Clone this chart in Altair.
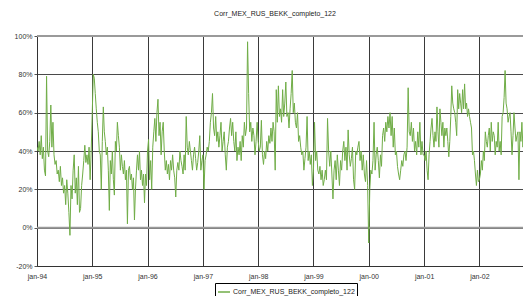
import pandas as pd
import altair as alt

SERIES = "Corr_MEX_RUS_BEKK_completo_122"
TITLE = "Corr_MEX_RUS_BEKK_completo_122"

# weekly-ish readings, in percent, one list per calendar year
v1994 = [42, 40, 45, 38, 48, 36, 42, 30, 27, 79, 40, 37, 45, 64, 42, 55, 38, 33, 35, 28,
         30, 24, 32, 22, 26, 18, 22, 12, 25, 18, 8, -4, 22, 15, 30, 38, 18, 26, 12, 32,
         8, 10, 22, 28, 35, 43, 34, 38, 33, 42, 25, 40]
v1995 = [60, 80, 78, 70, 62, 55, 50, 40, 38, 20, 45, 63, 50, 45, 38, 42, 30, 9, 35, 28,
         40, 25, 17, 45, 40, 55, 48, 42, 30, 38, 32, 28, 35, 25, 30, 2, 30, 32, 25, 28,
         20, 26, 4, 20, 30, 38, 30, 40, 25, 30, 22, 28, 13, 28, 22]
v1996 = [40, 46, 25, 35, 20, 42, 50, 57, 45, 60, 67, 48, 55, 38, 50, 55, 40, 30, 35, 28,
         33, 25, 35, 30, 38, 30, 26, 16, 30, 34, 30, 40, 35, 32, 28, 38, 30, 58, 42, 38,
         45, 40, 35, 30, 38, 42, 36, 30, 34, 40, 48, 30, 35]
v1997 = [38, 20, 35, 38, 42, 40, 45, 55, 60, 70, 52, 48, 58, 45, 50, 42, 48, 55, 40, 45,
         50, 38, 30, 42, 45, 52, 57, 48, 55, 45, 40, 50, 35, 42, 38, 45, 35, 48, 42, 55,
         48, 52, 97, 70, 50, 55, 45, 52, 48, 38, 45, 55]
v1998 = [45, 40, 42, 56, 38, 33, 40, 36, 45, 40, 48, 44, 52, 45, 55, 50, 30, 72, 55, 74,
         58, 62, 55, 72, 58, 65, 76, 58, 60, 52, 62, 70, 82, 60, 65, 55, 52, 60, 45, 48,
         42, 38, 40, 30, 36, 42, 58, 35, 40, 33, 38, 22]
v1999 = [30, 55, 35, 40, 30, 28, 32, 25, 30, 22, 25, 30, 25, 57, 40, 32, 40, 28, 15, 30,
         35, 25, 38, 30, 22, 35, 30, 40, 45, 35, 42, 30, 51, 38, 32, 36, 42, 25, 20, 40,
         38, 42, 45, 35, 40, 30, 38, 28, 24, 35, 22]
v2000 = [-8, 20, 30, 28, 35, 55, 30, 38, 42, 35, 26, 38, 32, 48, 52, 45, 55, 50, 58, 52,
         60, 48, 58, 42, 52, 38, 40, 32, 28, 25, 30, 35, 32, 38, 40, 35, 42, 73, 50, 48,
         55, 45, 52, 40, 45, 38, 50, 42, 55, 38, 45, 38]
v2001 = [38, 35, 40, 30, 25, 38, 45, 52, 57, 48, 42, 50, 45, 63, 50, 42, 62, 55, 48, 55,
         42, 52, 48, 52, 45, 37, 45, 58, 74, 65, 62, 60, 55, 48, 72, 62, 70, 65, 60, 72,
         62, 75, 62, 65, 58, 62, 58, 55, 52, 38, 40, 35, 28, 22, 30, 24]
v2002 = [25, 28, 35, 30, 40, 35, 50, 45, 42, 48, 52, 40, 55, 45, 50, 48, 38, 45, 42, 55,
         40, 45, 38, 58, 60, 68, 82, 65, 62, 55, 58, 60, 50, 38, 48, 60, 52, 45, 48, 50,
         25, 50, 45, 55, 42, 50, 40, 48, 42, 45, 40, 42]

YEARS = [1994, 1995, 1996, 1997, 1998, 1999, 2000, 2001, 2002]
VALUES = [v1994, v1995, v1996, v1997, v1998, v1999, v2000, v2001, v2002]
LAST_DAY = "2002-11-30"

Y_TICKS = [-0.2, 0.0, 0.2, 0.4, 0.6, 0.8, 1.0]
REF_LINES = [0.0, 1.0]

rows = []
for yr, vals in zip(YEARS, VALUES):
    start = pd.Timestamp(f"{yr}-01-01")
    if yr == YEARS[-1]:
        stop = pd.Timestamp(LAST_DAY)
        step = (stop - start) / (len(vals) - 1)
    else:
        stop = pd.Timestamp(f"{yr + 1}-01-01")
        step = (stop - start) / len(vals)
    for i, v in enumerate(vals):
        rows.append({"date": start + step * i, "value": v / 100.0, "series": SERIES})
df = pd.DataFrame(rows)

FONT = "Liberation Sans"
TXT = "#333333"

x_axis = alt.Axis(
    values=[alt.DateTime(year=y, month=1, date=1) for y in YEARS],
    labelExpr="'jan-' + timeFormat(datum.value, '%y')",
    title=None, grid=True, gridColor="#3a3a3a", gridWidth=1,
    ticks=False, tickSize=0, labelPadding=6, labelFontSize=7, labelFont=FONT,
    labelColor=TXT, domainColor="#333333", domainWidth=1, labelFlush=False,
)
y_axis = alt.Axis(
    values=Y_TICKS, labelExpr="round(datum.value * 100) + '%'",
    title=None, grid=True, gridColor="#4a4a4a", gridWidth=1,
    ticks=True, tickSize=3, tickColor="#555555", labelPadding=2,
    labelFontSize=7, labelFont=FONT, labelColor=TXT,
    domainColor="#333333", domainWidth=1,
)

x_scale = alt.Scale(domain=[alt.DateTime(year=1994, month=1, date=1),
                            alt.DateTime(year=2002, month=10, date=16)])
y_scale = alt.Scale(domain=[-0.2, 1.0], nice=False)

refs = alt.Chart(pd.DataFrame({"y": REF_LINES})).mark_rule(
    color="#9a9a9a", strokeWidth=2
).encode(y=alt.Y("y:Q", scale=y_scale, axis=y_axis))

line = alt.Chart(df).mark_line(strokeWidth=1, clip=True).encode(
    x=alt.X("date:T", scale=x_scale, axis=x_axis),
    y=alt.Y("value:Q", scale=y_scale, axis=y_axis),
    color=alt.Color(
        "series:N",
        scale=alt.Scale(range=["#70AD47"]),
        legend=alt.Legend(
            title=None, orient="none", legendX=178, legendY=247,
            symbolType="stroke", symbolSize=144, symbolStrokeWidth=1.5,
            labelFontSize=7, labelFont=FONT, labelColor="#222222",
            strokeColor="#000000", padding=2, labelOffset=2, fillColor="white",
        ),
    ),
)

chart = alt.layer(refs, line).properties(
    width=486, height=230,
    title=alt.Title(TITLE, fontSize=7, font=FONT, fontWeight="normal",
                    color="#222222", offset=15, dx=-5, anchor="middle"),
    padding={"left": 29, "top": 28, "right": 0, "bottom": 30},
    autosize=alt.AutoSizeParams(type="none"),
).configure_view(stroke=None).configure(background="white")

chart.save("out.html", embed_options={"renderer": "svg", "actions": False})
